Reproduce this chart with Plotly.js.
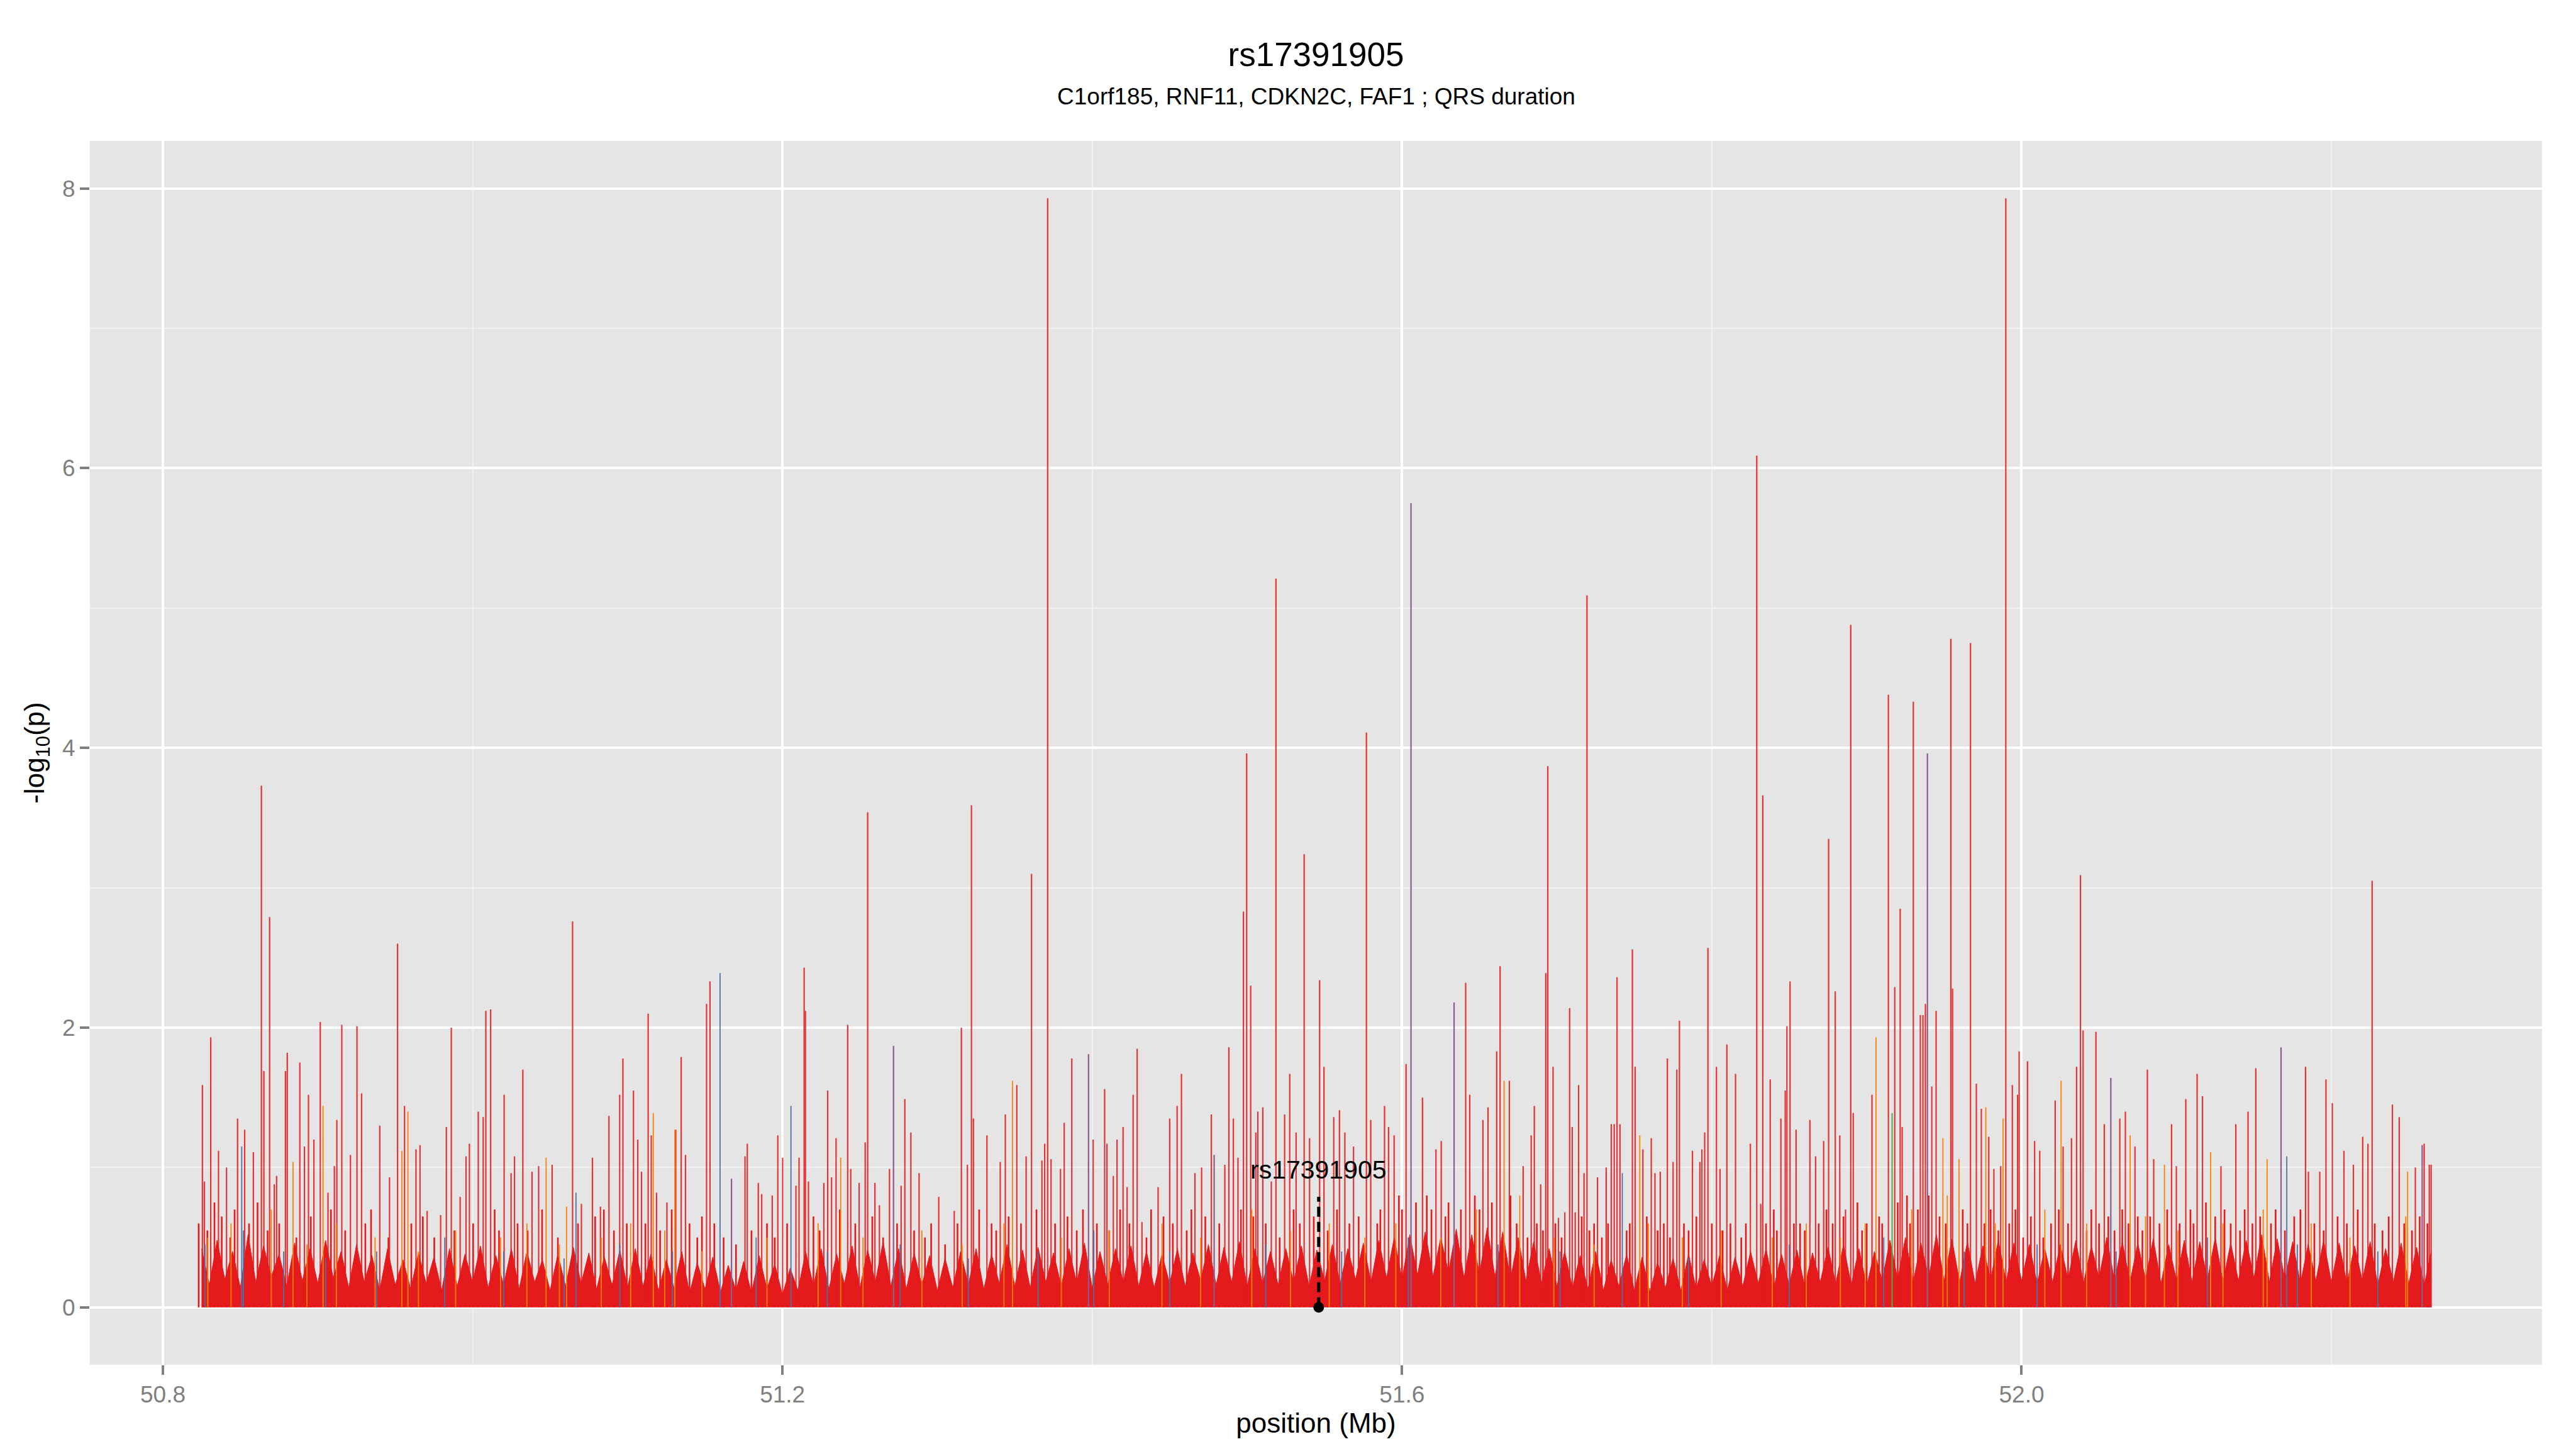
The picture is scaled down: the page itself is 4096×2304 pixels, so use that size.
<!DOCTYPE html>
<html>
<head>
<meta charset="utf-8">
<script src="https://cdn.plot.ly/plotly-3.0.1.min.js"></script>
<style>
html,body{margin:0;padding:0;background:#fff;}
#chart{width:4096px;height:2304px;}
</style>
</head>
<body>
<div id="chart"></div>
<script>
// ---------------- DATA ----------------
const chartTitle = 'rs17391905';
const chartSubtitle = 'C1orf185, RNF11, CDKN2C, FAF1 ; QRS duration';
const xTickVals = [50.8, 51.2, 51.6, 52.0];
const xTickText = ['50.8', '51.2', '51.6', '52.0'];
const yTickVals = [0, 2, 4, 6, 8];
const yTickText = ['0', '2', '4', '6', '8'];

const leadSnp = 'rs17391905';
const leadPos = 51.5462;
const leadLineTop = 0.79;
const leadLabelY = 0.985;

// red association spikes (position Mb, -log10 p)
const redPos = [
50.8255,50.8268,50.8309,50.8359,50.8411,50.8482,50.8528,50.8584,50.8636,50.8652,50.8689,50.8719,50.8734,50.8791,50.8803,50.8884,50.8914,50.8940,50.8975,50.9016,
50.9066,50.9107,50.9123,50.9155,50.9211,50.9253,50.9283,50.9400,50.9463,50.9515,50.9560,50.9634,50.9660,50.9706,50.9793,50.9830,50.9862,50.9919,50.9957,50.9979,
51.0036,51.0068,51.0085,51.0116,51.0203,51.0248,51.0270,51.0324,51.0383,51.0426,51.0513,51.0645,51.0702,51.0773,51.0825,51.0880,51.0949,51.0970,51.1038,51.1066,
51.1090,51.1133,51.1153,51.1187,51.1254,51.1311,51.1346,51.1374,51.1510,51.1532,51.1758,51.1773,51.1844,51.1866,51.1934,51.1970,51.2001,51.2087,51.2107,51.2140,
51.2148,51.2168,51.2267,51.2292,51.2317,51.2346,51.2421,51.2441,51.2495,51.2534,51.2550,51.2597,51.2626,51.2691,51.2766,51.2790,51.2829,51.2882,51.3009,51.3109,
51.3155,51.3194,51.3220,51.3233,51.3320,51.3406,51.3439,51.3513,51.3573,51.3608,51.3675,51.3693,51.3712,51.3734,51.3795,51.3819,51.3868,
51.4006,51.4080,51.4095,51.4136,51.4160,51.4199,51.4225,51.4264,51.4290,51.4321,51.4425,51.4500,51.4548,51.4576,51.4663,51.4706,51.4769,51.4856,51.4882,51.4911,
51.4941,51.4976,51.4997,51.5023,51.5056,51.5069,51.5101,51.5156,51.5186,51.5242,51.5275,51.5316,51.5368,51.5403,51.5468,51.5496,51.5559,51.5596,51.5631,51.5687,
51.5770,51.5798,51.5887,51.5913,51.5949,51.6026,51.6132,51.6219,51.6253,51.6411,51.6437,51.6522,51.6555,51.6611,51.6633,51.6693,51.6782,51.6834,
51.6854,51.6895,51.6928,51.6941,51.6975,51.7010,51.7051,51.7082,51.7099,51.7118,51.7140,51.7175,51.7194,51.7262,51.7318,51.7351,51.7370,51.7388,51.7407,51.7487,
51.7505,51.7555,51.7609,51.7633,51.7667,51.7713,51.7750,51.7774,51.7791,51.7875,51.7923,51.7936,51.7954,51.7975,51.8030,51.8053,51.8097,51.8153,51.8249,51.8290,
51.8316,51.8329,51.8377,51.8446,51.8474,51.8485,51.8505,51.8544,51.8633,51.8670,51.8722,51.8754,51.8797,51.8826,51.8863,51.8897,51.8913,51.9034,51.9140,51.9181,
51.9216,51.9229,51.9301,51.9346,51.9363,51.9379,51.9420,51.9448,51.9543,51.9554,51.9670,51.9708,
51.9740,51.9788,51.9821,51.9865,51.9898,51.9940,51.9974,51.9984,52.0038,52.0084,52.0117,52.0217,52.0268,52.0322,52.0355,52.0380,52.0397,52.0480,52.0534,52.0634,
52.0670,52.0732,52.0812,52.0853,52.0968,52.0999,52.1060,52.1133,52.1168,52.1287,52.1383,52.1462,52.1512,52.1833,52.1852,52.1925,52.1965,52.2006,52.2081,52.2142,
52.2202,52.2236,52.2263,52.2394,52.2438,52.2542,52.2599,52.2632,52.2644
];
const redLogP = [
1.59,0.90,1.93,1.12,1.00,1.35,1.27,1.11,3.73,1.69,2.79,0.88,0.94,1.69,1.82,1.75,1.15,1.52,1.20,2.04,
0.82,1.01,1.34,2.02,1.09,2.01,1.53,1.30,0.93,2.60,1.44,1.13,1.16,0.69,0.66,1.29,2.00,0.79,1.08,1.17,
1.40,1.36,2.12,2.13,1.52,0.96,1.08,1.70,0.97,1.01,1.02,2.76,0.74,1.07,0.72,1.37,1.52,1.78,1.55,1.20,
0.97,2.10,1.23,0.82,0.75,1.27,1.79,1.09,2.17,2.33,1.08,1.17,0.89,0.81,0.80,1.23,1.07,0.87,1.07,2.43,
2.12,0.90,0.89,1.55,0.93,1.21,2.02,0.99,0.89,1.18,3.54,0.89,0.73,0.99,0.87,1.49,1.25,0.96,0.79,0.69,
2.00,1.02,3.59,1.35,1.23,1.04,1.38,1.59,1.08,3.10,1.05,1.17,7.93,1.06,0.99,1.32,1.78,
1.20,1.56,1.17,0.94,1.20,1.29,0.86,1.52,1.85,0.61,0.86,1.35,1.44,1.67,0.96,1.00,1.38,1.02,1.86,1.35,
1.07,2.83,3.96,2.30,1.25,1.40,1.43,0.90,5.21,1.38,1.67,1.25,3.24,1.21,2.34,1.72,1.36,1.41,1.25,1.15,
4.11,1.34,1.44,1.29,1.23,1.74,1.50,1.13,1.19,2.32,1.52,1.34,1.43,1.83,2.44,1.62,1.01,1.23,
1.44,0.88,2.39,3.87,1.72,0.64,0.68,2.14,1.29,0.68,1.59,0.96,5.09,0.93,1.00,1.31,1.31,2.36,1.31,2.56,
1.72,1.13,1.21,0.96,0.97,1.78,1.04,1.70,2.05,1.12,1.04,1.13,1.25,2.57,1.72,0.99,1.88,1.67,1.17,6.09,
0.74,3.66,1.63,1.35,1.55,2.01,2.33,1.27,1.34,1.08,1.19,3.35,2.26,1.23,0.70,4.88,1.39,1.52,4.38,2.29,
2.85,1.29,4.33,2.09,2.09,2.17,1.58,2.12,4.78,2.28,4.75,1.60,
1.42,1.22,0.99,1.01,7.93,1.59,1.52,1.83,1.76,1.19,1.12,1.48,1.15,1.21,1.72,3.09,1.98,1.97,1.31,1.35,
1.40,1.15,1.70,1.06,1.31,1.01,1.49,1.67,1.51,1.01,1.31,1.40,1.71,1.72,0.97,0.97,1.63,1.46,1.12,1.02,
1.22,1.17,3.05,1.45,1.36,1.00,1.17,1.02,1.02
];

// smaller red spikes rising just above the dense base
const lowPos = [
50.8231,50.8287,50.8333,50.8380,50.8435,50.8463,50.8556,50.8611,50.8676,50.8751,50.8862,50.8955,50.9085,50.9177,50.9307,50.9344,50.9456,50.9604,50.9678,50.9752,
50.9882,51.0003,51.0142,51.0170,51.0290,51.0355,51.0448,51.0550,51.0680,51.0791,51.0847,51.0912,51.0995,
51.1115,51.1210,51.1285,51.1400,51.1450,51.1480,51.1560,51.1620,51.1700,51.1800,51.1900,51.1950,51.2030,51.2200,51.2240,51.2370,51.2470,51.2580,51.2650,51.2740,
51.2850,51.2920,51.2960,51.3050,51.3130,51.3270,51.3350,51.3380,51.3460,51.3540,51.3640,51.3760,51.3840,51.3900,51.3940,
51.4030,51.4110,51.4180,51.4240,51.4350,51.4380,51.4460,51.4520,51.4610,51.4640,51.4730,51.4820,51.4960,51.5040,51.5120,51.5210,51.5300,51.5340,51.5430,51.5520,
51.5580,51.5660,51.5720,51.5840,51.5860,51.5980,51.6000,51.6090,51.6160,51.6190,51.6280,51.6300,51.6380,51.6470,51.6500,51.6580,51.6700,51.6740,51.6810,
51.6870,51.6910,51.6990,51.7030,51.7160,51.7210,51.7240,51.7290,51.7330,51.7450,51.7470,51.7580,51.7650,51.7690,51.7730,51.7820,51.7850,51.7900,51.8000,51.8070,
51.8120,51.8190,51.8220,51.8350,51.8400,51.8420,51.8530,51.8570,51.8600,51.8690,51.8740,51.8780,51.8850,51.8940,51.8970,51.9000,51.9080,51.9100,51.9200,51.9260,
51.9280,51.9330,51.9400,51.9470,51.9510,51.9620,51.9650,
51.9760,51.9800,51.9850,51.9920,51.9960,52.0010,52.0060,52.0140,52.0190,52.0240,52.0300,52.0420,52.0450,52.0500,52.0560,52.0600,52.0650,52.0690,52.0750,52.0780,
52.0830,52.0890,52.0940,52.1020,52.1090,52.1110,52.1190,52.1250,52.1310,52.1350,52.1410,52.1440,52.1490,52.1540,52.1610,52.1640,52.1700,52.1760,52.1800,52.1890,
52.1950,52.2040,52.2100,52.2170,52.2280,52.2330,52.2370,52.2470,52.2520,52.2570,52.2620
];
const lowLogP = [
0.60,0.55,0.75,0.65,0.50,0.70,0.60,0.75,0.55,0.60,0.50,0.65,0.70,0.55,0.60,0.70,0.50,0.60,0.65,0.50,
0.55,0.60,0.70,0.55,0.60,0.55,0.70,0.50,0.60,0.65,0.70,0.55,0.60,
0.60,0.55,0.70,0.60,0.50,0.65,0.60,0.50,0.45,0.55,0.60,0.50,0.60,0.65,0.55,0.70,0.60,0.65,0.50,0.60,
0.55,0.50,0.60,0.45,0.60,0.70,0.60,0.55,0.65,0.60,0.70,0.60,0.65,0.55,0.70,
0.60,0.55,0.70,0.60,0.50,0.70,0.65,0.60,0.55,0.70,0.65,0.60,0.70,0.65,0.60,0.50,0.70,0.60,0.65,0.55,
0.70,0.60,0.65,0.60,0.70,0.80,0.70,0.75,0.80,0.70,0.65,0.75,0.70,0.80,0.70,0.75,0.80,0.60,0.50,
0.60,0.55,0.60,0.50,0.65,0.55,0.60,0.50,0.60,0.55,0.60,0.65,0.55,0.60,0.50,0.60,0.55,0.65,0.60,0.55,
0.60,0.50,0.60,0.60,0.70,0.55,0.60,0.60,0.55,0.60,0.70,0.60,0.65,0.75,0.55,0.60,0.65,0.60,0.75,0.80,
0.60,0.70,0.80,0.65,0.60,0.70,0.60,
0.60,0.70,0.55,0.60,0.70,0.50,0.65,0.50,0.60,0.70,0.60,0.55,0.70,0.60,0.65,0.55,0.70,0.60,0.65,0.55,
0.65,0.60,0.70,0.60,0.70,0.60,0.75,0.65,0.70,0.60,0.55,0.70,0.60,0.65,0.60,0.70,0.55,0.65,0.70,0.60,
0.55,0.65,0.60,0.70,0.60,0.55,0.65,0.60,0.55,0.65,0.60
];

// dense base of small values: local highs of the solid red band
const basePos = [
50.825,50.835,50.845,50.855,50.865,50.875,50.885,50.895,50.905,
50.915,50.925,50.935,50.945,50.955,50.965,50.975,50.985,50.995,51.005,
51.015,51.025,51.035,51.045,51.055,51.065,51.075,51.085,51.095,51.105,
51.115,51.125,51.135,51.145,51.155,51.165,51.175,51.185,51.195,51.205,
51.215,51.225,51.235,51.245,51.255,51.265,51.275,51.285,51.295,51.305,
51.315,51.325,51.335,51.345,51.355,51.365,51.375,51.385,51.395,51.405,
51.415,51.425,51.435,51.445,51.455,51.465,51.475,51.485,51.495,51.505,
51.515,51.525,51.535,51.545,51.555,51.565,51.575,51.585,51.595,51.605,
51.615,51.625,51.635,51.645,51.655,51.665,51.675,51.685,51.695,51.705,
51.715,51.725,51.735,51.745,51.755,51.765,51.775,51.785,51.795,51.805,
51.815,51.825,51.835,51.845,51.855,51.865,51.875,51.885,51.895,51.905,
51.915,51.925,51.935,51.945,51.955,51.965,51.975,51.985,51.995,52.005,
52.015,52.025,52.035,52.045,52.055,52.065,52.075,52.085,52.095,52.105,
52.115,52.125,52.135,52.145,52.155,52.165,52.175,52.185,52.195,52.205,
52.215,52.225,52.235,52.245,52.255,52.2644
];
const baseLogP = [
0.42,0.48,0.40,0.52,0.44,0.38,0.46,0.42,0.48,
0.40,0.45,0.37,0.42,0.34,0.39,0.36,0.42,0.38,0.44,
0.37,0.42,0.40,0.34,0.38,0.43,0.39,0.36,0.41,0.42,
0.38,0.34,0.40,0.32,0.36,0.30,0.33,0.37,0.31,0.28,
0.40,0.42,0.38,0.44,0.41,0.47,0.42,0.39,0.37,0.35,
0.40,0.42,0.38,0.45,0.41,0.43,0.39,0.42,0.46,0.40,
0.42,0.44,0.40,0.38,0.42,0.39,0.45,0.43,0.47,0.42,
0.40,0.42,0.44,0.41,0.45,0.42,0.46,0.48,0.50,0.52,
0.54,0.50,0.56,0.52,0.57,0.54,0.50,0.47,0.42,0.40,
0.37,0.40,0.34,0.38,0.36,0.32,0.35,0.38,0.34,0.37,
0.36,0.40,0.42,0.38,0.41,0.39,0.43,0.45,0.42,0.40,
0.48,0.50,0.46,0.52,0.49,0.47,0.44,0.48,0.46,0.45,
0.42,0.45,0.48,0.44,0.50,0.47,0.46,0.49,0.45,0.48,
0.47,0.50,0.46,0.48,0.52,0.49,0.47,0.45,0.48,0.46,
0.44,0.47,0.42,0.46,0.43,0.40
];
// dense base: local lows between the highs
const valleyPos = [
50.830,50.840,50.850,50.860,50.870,50.880,50.890,50.900,50.910,
50.920,50.930,50.940,50.950,50.960,50.970,50.980,50.990,51.000,51.010,
51.020,51.030,51.040,51.050,51.060,51.070,51.080,51.090,51.100,51.110,
51.120,51.130,51.140,51.150,51.160,51.170,51.180,51.190,51.200,51.210,
51.220,51.230,51.240,51.250,51.260,51.270,51.280,51.290,51.300,51.310,
51.320,51.330,51.340,51.350,51.360,51.370,51.380,51.390,51.400,51.410,
51.420,51.430,51.440,51.450,51.460,51.470,51.480,51.490,51.500,51.510,
51.520,51.530,51.540,51.550,51.560,51.570,51.580,51.590,51.600,51.610,
51.620,51.630,51.640,51.650,51.660,51.670,51.680,51.690,51.700,51.710,
51.720,51.730,51.740,51.750,51.760,51.770,51.780,51.790,51.800,51.810,
51.820,51.830,51.840,51.850,51.860,51.870,51.880,51.890,51.900,51.910,
51.920,51.930,51.940,51.950,51.960,51.970,51.980,51.990,52.000,52.010,
52.020,52.030,52.040,52.050,52.060,52.070,52.080,52.090,52.100,52.110,
52.120,52.130,52.140,52.150,52.160,52.170,52.180,52.190,52.200,52.210,
52.220,52.230,52.240,52.250,52.260
];
const valleyLogP = [
0.16,0.20,0.14,0.18,0.22,0.15,0.19,0.17,0.21,
0.14,0.18,0.12,0.16,0.13,0.17,0.12,0.15,0.18,0.14,
0.16,0.13,0.18,0.12,0.15,0.17,0.13,0.16,0.14,0.15,
0.12,0.14,0.10,0.13,0.11,0.12,0.10,0.13,0.09,0.12,
0.15,0.13,0.17,0.14,0.18,0.15,0.13,0.16,0.12,0.14,
0.16,0.13,0.17,0.15,0.14,0.18,0.15,0.17,0.14,0.16,
0.18,0.15,0.14,0.17,0.15,0.19,0.16,0.18,0.15,0.17,
0.16,0.18,0.15,0.19,0.17,0.20,0.18,0.21,0.20,0.23,
0.22,0.25,0.21,0.24,0.22,0.20,0.19,0.17,0.15,0.14,
0.13,0.12,0.15,0.12,0.11,0.14,0.12,0.13,0.15,0.12,
0.15,0.17,0.14,0.16,0.15,0.18,0.17,0.16,0.15,0.19,
0.20,0.18,0.21,0.19,0.18,0.17,0.20,0.18,0.19,0.17,
0.18,0.20,0.17,0.21,0.19,0.18,0.20,0.17,0.19,0.18,
0.20,0.18,0.19,0.21,0.18,0.20,0.17,0.19,0.18,0.17,
0.19,0.16,0.18,0.17,0.16
];

// orange spikes
const orangePos = [
50.8840,50.9034,50.9543,50.9582,51.0474,51.0606,51.1166,51.1305,51.2376,51.3485,51.6659,51.7535,51.9060,51.9492,51.9596,
51.9769,51.9880,52.0255,52.0701,52.0922,52.1220,52.1585,52.2492,
50.8290,50.8440,50.8700,50.8930,50.9120,50.9370,50.9650,50.9890,51.0180,51.0350,51.0560,51.0830,51.1020,51.1240,51.1480,
51.1900,51.2230,51.2520,51.2900,51.3160,51.3430,51.3800,51.4110,51.4450,51.4700,51.5030,51.5280,51.5530,51.5760,51.5960,
51.6250,51.6480,51.6760,51.6980,51.7240,51.7590,51.7810,51.8060,51.8390,51.8610,51.8830,51.8990,51.9290,51.9520,51.9830,
52.0150,52.0420,52.0800,52.1010,52.1300,52.1560,52.1870,52.2120,52.2480
];
const orangeLogP = [
1.04,1.44,1.12,1.40,1.07,0.72,1.39,1.27,1.07,1.62,1.62,1.23,1.93,1.21,1.06,
1.43,1.35,1.62,1.23,1.02,1.11,1.06,0.97,
0.50,0.60,0.70,0.45,0.60,0.50,0.40,0.55,0.50,0.60,0.45,0.50,0.60,0.55,0.40,
0.50,0.60,0.50,0.55,0.45,0.60,0.50,0.55,0.60,0.50,0.70,0.55,0.60,0.50,0.60,
0.50,0.70,0.80,0.50,0.45,0.60,0.50,0.55,0.50,0.60,0.50,0.60,0.70,0.80,0.60,
0.70,0.60,0.65,0.55,0.60,0.70,0.60,0.50,0.65
];

// blue spikes
const bluePos = [
50.8509,51.0667,51.1597,51.2055,51.7422,52.1712,
50.8272,50.8520,50.8780,50.9050,50.9380,50.9820,51.0200,51.0590,51.0950,51.1290,51.1830,51.2290,51.2760,51.3200,51.3650,
51.4010,51.4500,51.5120,51.5610,51.6040,51.6620,51.7020,51.7850,51.8500,51.9110,51.9630,52.0100,52.0610,52.1200,52.1780,52.2300
];
const blueLogP = [
1.15,0.82,2.39,1.44,0.96,1.08,
0.45,0.55,0.40,0.35,0.40,0.50,0.40,0.35,0.45,0.40,0.50,0.40,0.45,0.35,0.40,
0.55,0.40,0.45,0.40,0.50,0.45,0.40,0.35,0.45,0.50,0.40,0.45,0.40,0.50,0.45,0.40
];

// purple spikes
const purplePos = [51.1671, 51.2717, 51.3976, 51.4787, 51.6058, 51.6336, 51.9392, 52.0576, 52.1675, 52.2586];
const purpleLogP = [0.92, 1.87, 1.81, 1.09, 5.75, 2.18, 3.96, 1.64, 1.86, 1.16];

// green spikes
const greenPos = [51.9164];
const greenLogP = [1.39];

// ---------------- BUILD ----------------
function spikes(pos, vals) {
  const x = [], y = [];
  for (let i = 0; i < pos.length; i++) {
    x.push(pos[i], pos[i], null);
    y.push(0, vals[i], null);
  }
  return {x, y};
}
function spikeTrace(pos, vals, color, width) {
  const s = spikes(pos, vals);
  return {
    type: 'scatter', mode: 'lines', x: s.x, y: s.y,
    line: {color: color, width: width},
    hoverinfo: 'skip', showlegend: false, connectgaps: false
  };
}
// merge the highs and lows of the dense base into one jagged outline
function baseOutline() {
  const pts = [];
  basePos.forEach((p, i) => pts.push([p, baseLogP[i]]));
  valleyPos.forEach((p, i) => pts.push([p, valleyLogP[i]]));
  pts.sort((a, b) => a[0] - b[0]);
  return {x: pts.map(p => p[0]), y: pts.map(p => p[1])};
}

const FONT = 'Liberation Sans, Arial, Helvetica, sans-serif';
const RED = '#E41A1C';
const base = baseOutline();

const traces = [
  {
    type: 'scatter', mode: 'lines', x: base.x, y: base.y,
    fill: 'tozeroy', fillcolor: RED, line: {color: RED, width: 1},
    hoverinfo: 'skip', showlegend: false
  },
  spikeTrace(lowPos, lowLogP, RED, 2.6),
  spikeTrace(redPos, redLogP, 'rgba(228,26,28,0.88)', 2.2),
  spikeTrace(orangePos, orangeLogP, '#FF7F00', 1.8),
  spikeTrace(bluePos, blueLogP, '#4F6FA8', 1.8),
  spikeTrace(purplePos, purpleLogP, '#8E5B8E', 2.2),
  spikeTrace(greenPos, greenLogP, '#4DAF4A', 2),
  {
    type: 'scatter', mode: 'lines', x: [leadPos, leadPos], y: [0, leadLineTop],
    line: {color: '#000000', width: 5, dash: '16px,8px'},
    hoverinfo: 'skip', showlegend: false
  },
  {
    type: 'scatter', mode: 'markers', x: [leadPos], y: [0],
    marker: {color: '#000000', size: 17},
    hoverinfo: 'skip', showlegend: false
  }
];

const layout = {
  width: 4096, height: 2304,
  margin: {l: 143, r: 54, t: 224, b: 134},
  paper_bgcolor: '#FFFFFF',
  plot_bgcolor: '#E5E5E5',
  font: {family: FONT, color: '#000000'},
  showlegend: false,
  title: {
    text: chartTitle,
    font: {family: FONT, size: 53, color: '#000000'},
    x: 0.5, xref: 'paper', xanchor: 'center',
    y: 1 - 86 / 2304, yref: 'container', yanchor: 'middle'
  },
  xaxis: {
    range: [50.7529, 52.336],
    tickmode: 'array', tickvals: xTickVals, ticktext: xTickText,
    ticks: 'outside', ticklen: 15, tickwidth: 4, tickcolor: '#7F7F7F',
    tickfont: {family: FONT, size: 37, color: '#7F7F7F'},
    showgrid: true, gridcolor: '#FFFFFF', gridwidth: 4,
    minor: {tickmode: 'array', tickvals: [51.0, 51.4, 51.8, 52.2], showgrid: true, gridcolor: '#F2F2F2', gridwidth: 2, ticks: ''},
    zeroline: false, showline: false,
    title: {text: 'position (Mb)', font: {family: FONT, size: 44, color: '#000000'}, standoff: 4}
  },
  yaxis: {
    range: [-0.41, 8.34],
    tickmode: 'array', tickvals: yTickVals, ticktext: yTickText,
    ticks: 'outside', ticklen: 15, tickwidth: 4, tickcolor: '#7F7F7F',
    tickfont: {family: FONT, size: 37, color: '#7F7F7F'},
    showgrid: true, gridcolor: '#FFFFFF', gridwidth: 4,
    minor: {tickmode: 'array', tickvals: [1, 3, 5, 7], showgrid: true, gridcolor: '#F2F2F2', gridwidth: 2, ticks: ''},
    zeroline: false, showline: false,
    title: {text: '-log<sub>10</sub>(p)', font: {family: FONT, size: 44, color: '#000000'}, standoff: 14}
  },
  annotations: [
    {
      text: chartSubtitle, xref: 'paper', yref: 'paper', x: 0.5, y: 1.036,
      xanchor: 'center', yanchor: 'middle', showarrow: false,
      font: {family: FONT, size: 37, color: '#000000'}
    },
    {
      text: leadSnp, xref: 'x', yref: 'y', x: leadPos, y: leadLabelY,
      xanchor: 'center', yanchor: 'middle', showarrow: false,
      font: {family: FONT, size: 41, color: '#000000'}
    }
  ]
};

Plotly.newPlot('chart', traces, layout, {staticPlot: true, displayModeBar: false});
</script>
</body>
</html>
